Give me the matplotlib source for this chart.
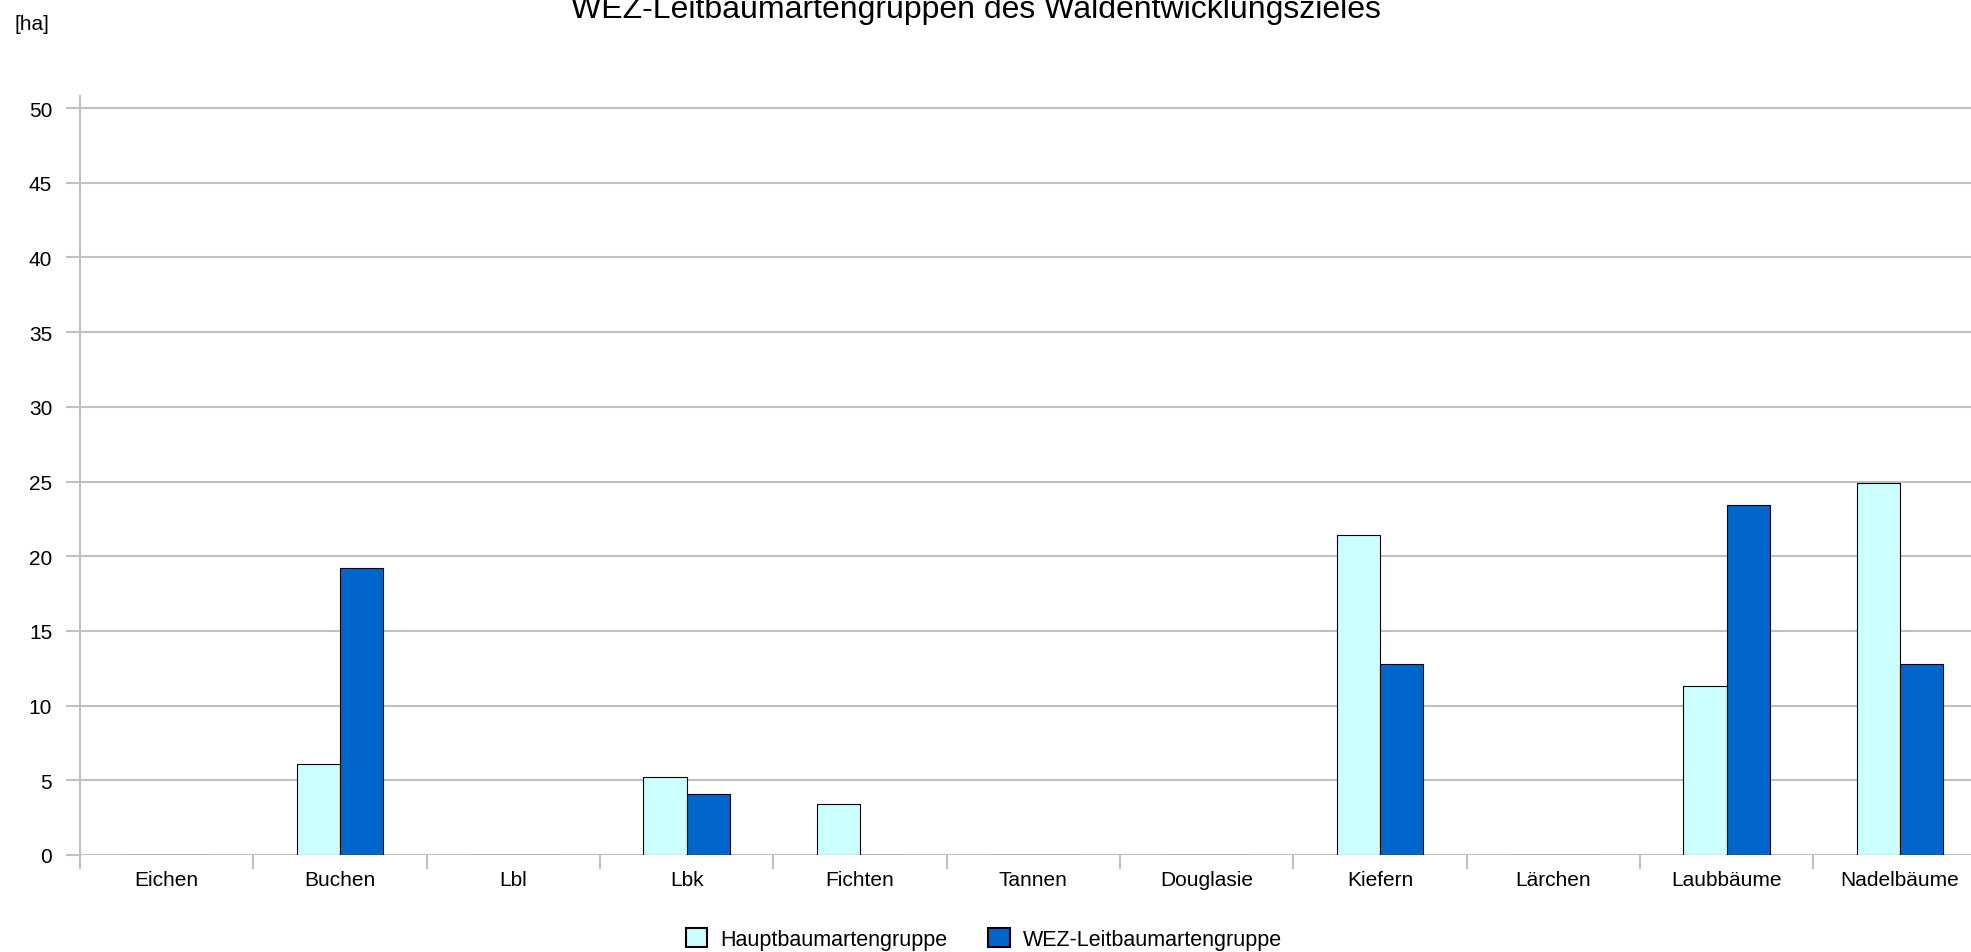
import matplotlib
matplotlib.use("Agg")
import matplotlib.pyplot as plt
from matplotlib.patches import Patch
import numpy as np

categories = ["Eichen", "Buchen", "Lbl", "Lbk", "Fichten", "Tannen", "Douglasie",
              "Kiefern", "Lärchen", "Laubbäume", "Nadelbäume"]
haupt = [0, 6.1, 0, 5.2, 3.4, 0, 0, 21.4, 0, 11.3, 24.9]
wez = [0, 19.2, 0, 4.1, 0, 0, 0, 12.8, 0, 23.4, 12.8]
yticks = [0, 5, 10, 15, 20, 25, 30, 35, 40, 45, 50]
series_names = ["Hauptbaumartengruppe", "WEZ-Leitbaumartengruppe"]
title = "WEZ-Leitbaumartengruppen des Waldentwicklungszieles"
unit = "[ha]"

plt.rcParams['font.family'] = ['Liberation Sans', 'DejaVu Sans']

W, H = 1971, 953
fig = plt.figure(figsize=(W / 100, H / 100), dpi=100)
ax = fig.add_axes([80 / W, 97 / H, (1986.7 - 80) / W, (856 - 97.1) / H])

grid_c = "#c0c0c0"
light = "#CCFFFF"
dark = "#0066CC"
x = np.arange(len(categories))
bw = 0.25
ax.bar(x - bw / 2, haupt, bw, color=light, edgecolor="black", linewidth=0.8, zorder=3)
ax.bar(x + bw / 2, wez, bw, color=dark, edgecolor="black", linewidth=0.8, zorder=3)

ax.set_xlim(-0.5, len(categories) - 0.5)
ax.set_ylim(0, 50.8)
ax.set_yticks(yticks)
ax.yaxis.grid(True, color=grid_c, linewidth=1.5, zorder=0)
ax.set_axisbelow(True)

for s in ["top", "right", "bottom"]:
    ax.spines[s].set_visible(False)
ax.spines["left"].set_color(grid_c)
ax.spines["left"].set_linewidth(1.5)

ax.set_xticks(np.arange(-0.5, len(categories) + 0.5, 1.0))
ax.set_xticklabels([])
ax.set_xticks(x, minor=True)
ax.set_xticklabels(categories, minor=True)
ax.tick_params(axis="x", which="major", length=10, width=1.5, color=grid_c)
ax.tick_params(axis="x", which="minor", length=0, pad=11, labelsize=15)
ax.tick_params(axis="y", length=10, width=1.5, color=grid_c, pad=10, labelsize=15)

fig.text(0.495, 1 - 18 / H, title, ha="center", va="baseline", fontsize=23)
fig.text(15 / W, 1 - 30 / H, unit, ha="left", va="baseline", fontsize=15)

handles = [Patch(facecolor=light, edgecolor="black", linewidth=1.5),
           Patch(facecolor=dark, edgecolor="black", linewidth=1.5)]
fig.legend(handles, series_names, loc="center", bbox_to_anchor=(0.499, 1 - 940 / H),
           ncol=2, frameon=False, fontsize=15.5, handlelength=1.0, handleheight=1.0,
           columnspacing=1.9, handletextpad=0.6)

fig.savefig("out.png", dpi=100)
